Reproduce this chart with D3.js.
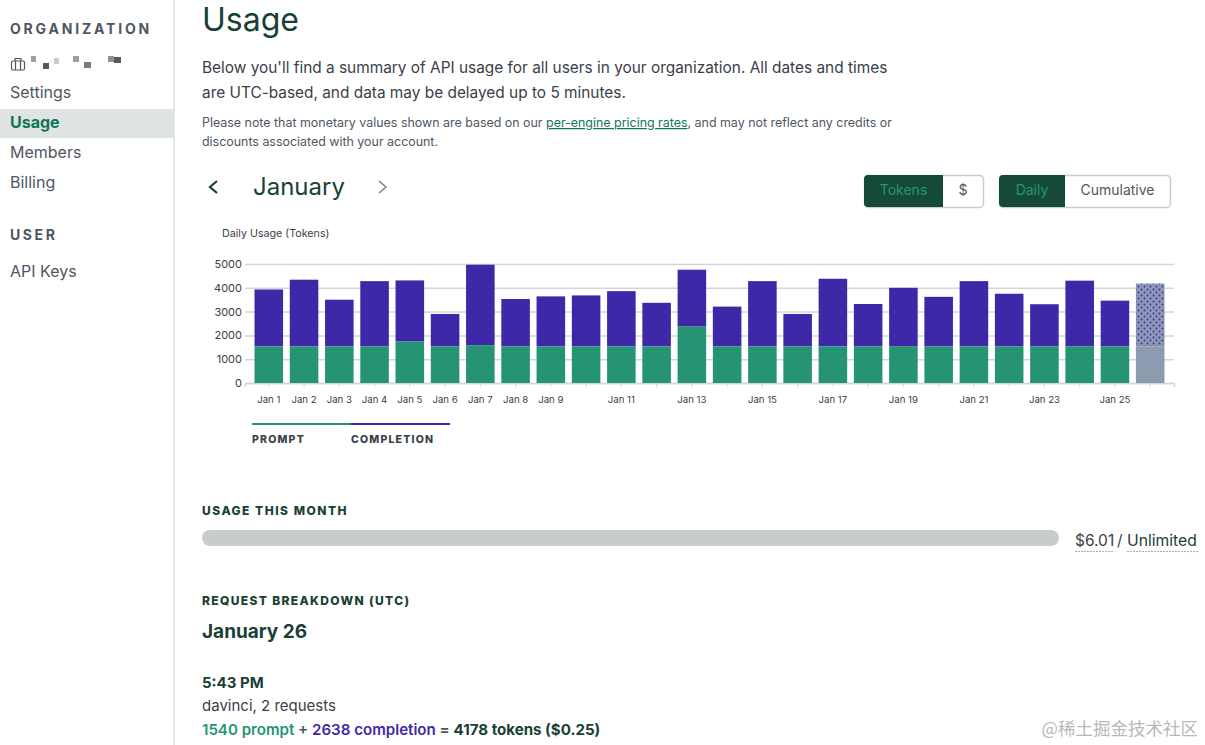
<!DOCTYPE html>
<html>
<head>
<meta charset="utf-8">
<script src="https://cdn.jsdelivr.net/npm/d3@7"></script>
<style>
  html, body { margin: 0; padding: 0; background: #fff; overflow: hidden; }
  svg { display: block; font-family: Inter, "Noto Sans", sans-serif; }
</style>
</head>
<body>
<svg id="page" width="1205" height="745"></svg>
<script>
const days = ["Jan 1","Jan 2","Jan 3","Jan 4","Jan 5","Jan 6","Jan 7","Jan 8","Jan 9","Jan 10","Jan 11","Jan 12","Jan 13",
  "Jan 14","Jan 15","Jan 16","Jan 17","Jan 18","Jan 19","Jan 20","Jan 21","Jan 22","Jan 23","Jan 24","Jan 25","Jan 26"];
const tickLabels = ["Jan 1","Jan 2","Jan 3","Jan 4","Jan 5","Jan 6","Jan 7","Jan 8","Jan 9","Jan 11","Jan 13","Jan 15",
  "Jan 17","Jan 19","Jan 21","Jan 23","Jan 25"];
const prompt = [1540,1540,1540,1540,1740,1540,1590,1540,1540,1540,1540,1540,2370,
  1540,1540,1540,1540,1540,1550,1540,1540,1540,1540,1540,1540,1540];
const completion = [2390,2800,1960,2740,2570,1360,3380,1990,2100,2140,2320,1830,2390,
  1670,2740,1360,2840,1780,2450,2080,2740,2210,1770,2760,1920,2638];
const yTicks = [0,1000,2000,3000,4000,5000];
const pendingDay = "Jan 26";

const darkGreen = "#1a4034";
const green = "#269474";
const purple = "#3f28a8";
const greyText = "#50565f";

const svg = d3.select("#page");

function label(x, y, str, size, weight, fill, spacing) {
  return svg.append("text").attr("x", x).attr("y", y)
    .attr("font-size", size).attr("font-weight", weight).attr("fill", fill)
    .attr("letter-spacing", spacing || 0).text(str);
}

// dotted fill for the current (unfinished) day
const defs = svg.append("defs");
const dots = defs.append("pattern").attr("id", "pendingDots")
  .attr("width", 6).attr("height", 6).attr("patternUnits", "userSpaceOnUse");
dots.append("rect").attr("width", 6).attr("height", 6).attr("fill", "#8d98b4");
dots.append("circle").attr("cx", 1.5).attr("cy", 1.5).attr("r", 0.9).attr("fill", "#3f28a8");
dots.append("circle").attr("cx", 4.5).attr("cy", 4.5).attr("r", 0.9).attr("fill", "#3f28a8");

// sidebar
svg.append("line").attr("x1", 174).attr("x2", 174).attr("y1", 0).attr("y2", 745)
  .attr("stroke", "#dcdfe0").attr("stroke-width", 1.5);
svg.append("rect").attr("x", 0).attr("y", 109).attr("width", 174).attr("height", 29).attr("fill", "#dfe3e3");
label(10, 34, "ORGANIZATION", 14, 700, greyText, 2.8);
label(10, 240, "USER", 14, 700, greyText, 2.6);
label(10, 98, "Settings", 16, 400, greyText);
label(10, 128, "Usage", 16, 700, "#11765a");
label(10, 158, "Members", 16, 400, greyText);
label(10, 188, "Billing", 16, 400, greyText);
label(10, 277, "API Keys", 16, 400, greyText);

// organization icon and the blurred-out name
const icon = svg.append("g").attr("fill", "none").attr("stroke", greyText).attr("stroke-width", 1.2);
icon.append("rect").attr("x", 11.5).attr("y", 61).attr("width", 13).attr("height", 9).attr("rx", 1.5);
icon.append("path").attr("d", "M15 61v-2.5h6V61M15.5 61v9M20.5 61v9");
const redactX = [31, 43, 54, 73, 84, 108, 114];
const redactY = [56, 63, 58, 56, 62, 56, 57];
const redactW = [5, 6, 5, 6, 7, 6, 7];
const redactC = ["#9aa0aa","#555b63","#c9ccd0","#9aa0aa","#777c84","#8c9298","#555b63"];
svg.selectAll("rect.redact").data(redactX).join("rect").attr("class", "redact")
  .attr("x", d => d).attr("y", (d, i) => redactY[i]).attr("width", (d, i) => redactW[i])
  .attr("height", 6).attr("fill", (d, i) => redactC[i]);

// header text
label(202, 31, "Usage", 32, 400, darkGreen);
label(202, 73, "Below you'll find a summary of API usage for all users in your organization. All dates and times", 15.4, 400, "#3a4048");
label(202, 98, "are UTC-based, and data may be delayed up to 5 minutes.", 15.4, 400, "#3a4048");
const note = label(202, 127, "Please note that monetary values shown are based on our ", 12.43, 400, "#50565f");
note.append("tspan").attr("fill", "#11765a").attr("text-decoration", "underline").text("per-engine pricing rates");
note.append("tspan").text(", and may not reflect any credits or");
label(202, 146, "discounts associated with your account.", 12.43, 400, "#50565f");

// month switcher
svg.append("path").attr("d", "M217 181l-7 6 7 6").attr("fill", "none").attr("stroke", darkGreen).attr("stroke-width", 2.2);
label(253, 195, "January", 24, 400, darkGreen);
svg.append("path").attr("d", "M379 181l7 6-7 6").attr("fill", "none").attr("stroke", "#7b8289").attr("stroke-width", 1.5);

// toggles
function toggle(x, w, split, on, off) {
  const y = 175, h = 32;
  svg.append("rect").attr("x", x + 0.5).attr("y", y + 0.5).attr("width", w).attr("height", h).attr("rx", 4)
    .attr("fill", "#fff").attr("stroke", "#c9cdd0").attr("stroke-width", 1.5);
  svg.append("path").attr("d", `M${x + 4} ${y}H${x + split}V${y + h}H${x + 4}a4 4 0 0 1-4-4V${y + 4}a4 4 0 0 1 4-4z`)
    .attr("fill", "#154a39");
  svg.append("text").attr("x", x + split / 2).attr("y", y + 20).attr("text-anchor", "middle")
    .attr("font-size", 14).attr("fill", "#269474").text(on);
  svg.append("text").attr("x", x + split + (w - split) / 2).attr("y", y + 20).attr("text-anchor", "middle")
    .attr("font-size", 14).attr("fill", greyText).text(off);
}
toggle(864, 119, 79, "Tokens", "$");
toggle(999, 171, 66, "Daily", "Cumulative");

// chart
label(222, 237, "Daily Usage (Tokens)", 10.7, 400, "#3a4048");

const x = d3.scaleBand().domain(days).range([245, 1174]).paddingInner(0.19).paddingOuter(0.27);
const y = d3.scaleLinear().domain([0, 5000]).range([383, 264]);

const yAxis = svg.append("g").attr("transform", "translate(245,0)")
  .call(d3.axisLeft(y).tickValues(yTicks).tickSize(0).tickPadding(3).tickFormat(d3.format("d")));
yAxis.select(".domain").remove();
yAxis.selectAll("text").attr("font-size", 11).attr("fill", "#3a4048").attr("font-family", "Inter, sans-serif");
yAxis.selectAll("line").attr("x2", 929).attr("stroke", "#d3d6d8").attr("stroke-width", 1.5);

const xAxis = svg.append("g").attr("transform", "translate(0,383)")
  .call(d3.axisBottom(x).tickSize(4).tickPadding(9).tickFormat(d => tickLabels.includes(d) ? d : ""));
xAxis.select(".domain").attr("stroke", "#d3d6d8").attr("stroke-width", 1.5);
xAxis.selectAll("line").attr("stroke", "#d3d6d8");
xAxis.selectAll("text").attr("font-size", 9.6).attr("fill", "#3a4048").attr("font-family", "Inter, sans-serif");

const series = [
  { name: "completion", values: completion, base: prompt, color: purple, pending: "url(#pendingDots)" },
  { name: "prompt", values: prompt, base: days.map(() => 0), color: green, pending: "#8d9bb0" }
];
series.forEach(s => {
  svg.append("g").selectAll("rect").data(days).join("rect")
    .attr("x", d => x(d))
    .attr("width", x.bandwidth())
    .attr("y", (d, i) => y(s.base[i] + s.values[i]))
    .attr("height", (d, i) => y(s.base[i]) - y(s.base[i] + s.values[i]))
    .attr("fill", d => d === pendingDay ? s.pending : s.color);
});

// legend
svg.append("rect").attr("x", 252).attr("y", 423).attr("width", 99).attr("height", 2).attr("fill", green);
svg.append("rect").attr("x", 351).attr("y", 423).attr("width", 99).attr("height", 2).attr("fill", purple);
label(252, 443, "PROMPT", 10.5, 800, "#3a4048", 1.2);
label(351, 443, "COMPLETION", 10.5, 800, "#3a4048", 1.2);

// usage this month
label(202, 515, "USAGE THIS MONTH", 12, 800, darkGreen, 1.5);
svg.append("rect").attr("x", 202).attr("y", 530).attr("width", 857).attr("height", 16).attr("rx", 8).attr("fill", "#c8cccd");
label(1075, 546, "$6.01", 15.5, 400, "#3a4048");
label(1117, 546, "/", 15.5, 400, "#3a4048");
label(1127, 546, "Unlimited", 15.7, 400, darkGreen);
svg.append("line").attr("x1", 1075).attr("x2", 1113).attr("y1", 551.5).attr("y2", 551.5)
  .attr("stroke", "#aab0b3").attr("stroke-dasharray", "2 1");
svg.append("line").attr("x1", 1127).attr("x2", 1198).attr("y1", 551.5).attr("y2", 551.5)
  .attr("stroke", "#aab0b3").attr("stroke-dasharray", "2 1");

// request breakdown
label(202, 605, "REQUEST BREAKDOWN (UTC)", 12, 800, darkGreen, 1.35);
label(202, 638, "January 26", 19, 700, darkGreen);
label(202, 688, "5:43 PM", 15, 700, darkGreen);
label(202, 711, "davinci, 2 requests", 15, 400, "#3a4048");
const sum = label(202, 735, "", 15.1, 600, darkGreen);
sum.append("tspan").attr("fill", green).text("1540 prompt");
sum.append("tspan").attr("fill", "#50565f").text(" + ");
sum.append("tspan").attr("fill", purple).text("2638 completion");
sum.append("tspan").attr("fill", "#50565f").text(" = ");
sum.append("tspan").attr("font-weight", 700).text("4178 tokens ($0.25)");

// watermark
svg.append("text").attr("x", 1198).attr("y", 735).attr("text-anchor", "end")
  .attr("font-family", "'Noto Sans CJK SC'").attr("font-size", 17.5).attr("fill", "#b8b8b8").text("@稀土掘金技术社区");
</script>
</body>
</html>
